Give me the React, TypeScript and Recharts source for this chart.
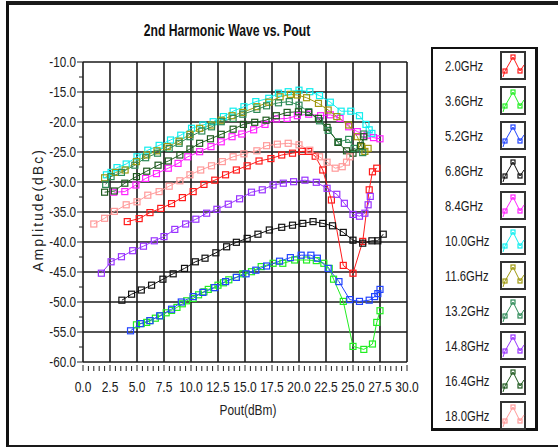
import React from 'react';
import { LineChart, Line, XAxis, YAxis, ReferenceLine } from 'recharts';

const FONT = '"Liberation Sans", Arial, sans-serif';
const TICK_NARROW = 0.8;

// ---- tick labels ----
const xMajorTicks = [0, 2.5, 5, 7.5, 10, 12.5, 15, 17.5, 20, 22.5, 25, 27.5, 30];
const yMajorTicks = [-60, -55, -50, -45, -40, -35, -30, -25, -20, -15, -10];
const xAllTicks: number[] = [];
for (let i = 0; i < xMajorTicks.length - 1; i++) {
  for (let k = 0; k < 5; k++) xAllTicks.push(xMajorTicks[i] + k * 0.5);
}
xAllTicks.push(30);
const yAllTicks: number[] = [];
for (let i = 0; i < yMajorTicks.length - 1; i++) {
  yAllTicks.push(yMajorTicks[i], yMajorTicks[i] + 2.5);
}
yAllTicks.push(-10);

// ---- series values ----
const x2_0 = [4.1, 5.2, 6.2, 7.2, 8.2, 9.2, 10.2, 11.2, 12.2, 13.2, 14.2, 15.2, 16.3, 17.4, 18.4, 19.4, 20.3, 20.9, 21.5, 22.2, 23.0, 24.1, 25.0, 25.9, 26.5, 26.8, 27.2];
const y2_0 = [-36.6, -36.1, -35.1, -34.4, -33.6, -32.6, -31.6, -30.4, -29.7, -28.8, -28.0, -27.3, -26.5, -26.1, -25.5, -25.2, -24.9, -24.9, -25.7, -28.0, -33.0, -43.9, -45.2, -39.9, -31.3, -28.3, -27.7];

const x3_6 = [4.95, 5.4, 5.9, 6.2, 6.7, 7.2, 7.7, 8.2, 8.7, 9.2, 9.6, 10.2, 10.7, 11.2, 11.6, 12.1, 12.5, 13.0, 13.5, 14.2, 14.8, 15.6, 16.5, 17.6, 18.5, 19.6, 20.7, 21.6, 22.3, 22.8, 23.2, 24.1, 25.0, 26.0, 26.8, 27.2, 27.5];
const y3_6 = [-53.8, -53.6, -53.4, -53.1, -52.7, -52.3, -51.8, -51.4, -50.9, -50.3, -49.8, -49.4, -48.8, -48.3, -47.9, -47.6, -47.2, -46.8, -46.3, -45.9, -45.3, -44.95, -44.1, -43.55, -43.55, -43.0, -43.0, -43.1, -43.55, -44.4, -46.2, -49.9, -57.4, -57.9, -57.0, -53.4, -51.45];

const x5_2 = [4.4, 5.3, 6.2, 7.1, 8.2, 9.1, 10.2, 11.1, 12.2, 13.2, 14.2, 15.1, 16.0, 17.0, 18.2, 19.2, 20.2, 21.1, 21.7, 22.7, 23.7, 24.7, 25.6, 26.5, 27.0, 27.3, 27.5];
const y5_2 = [-54.8, -53.6, -53.1, -52.3, -51.2, -50.0, -49.1, -48.4, -47.6, -46.6, -45.9, -45.3, -44.7, -44.0, -43.2, -42.6, -42.2, -42.2, -42.7, -44.4, -46.6, -49.6, -49.9, -49.7, -49.1, -48.6, -47.9];

const x6_8 = [3.6, 4.5, 5.4, 6.35, 7.4, 8.35, 9.4, 10.4, 11.3, 12.3, 13.3, 14.2, 15.2, 16.2, 17.25, 18.4, 19.4, 20.35, 21.3, 22.2, 23.1, 24.1, 25.0, 25.9, 26.75, 27.3, 27.8];
const y6_8 = [-49.7, -48.7, -48.0, -47.2, -46.2, -45.3, -44.4, -43.3, -42.7, -41.8, -40.8, -40.05, -39.4, -38.7, -38.0, -37.55, -37.2, -36.9, -36.6, -36.9, -37.3, -38.4, -39.7, -40.2, -39.8, -39.8, -38.7];

const x8_4 = [2.85, 3.87, 4.9, 5.8, 6.8, 7.9, 8.8, 9.7, 10.8, 11.85, 12.8, 13.8, 14.7, 15.8, 16.85, 17.9, 18.9, 19.85, 20.9, 22.0, 22.9, 23.8, 24.6, 25.4, 26.3, 26.9, 27.5];
const y8_4 = [-31.7, -31.6, -30.5, -29.4, -28.6, -27.7, -26.9, -25.8, -24.95, -24.1, -23.3, -22.45, -22.0, -21.3, -20.4, -19.5, -19.4, -18.95, -18.7, -18.95, -18.8, -19.4, -20.8, -21.6, -22.2, -22.6, -22.8];

const x10_0 = [2.17, 2.6, 3.15, 4.0, 5.0, 6.0, 7.05, 8.1, 9.05, 10.05, 11.1, 12.05, 13.0, 13.9, 14.9, 16.0, 17.2, 18.1, 19.0, 20.0, 21.0, 21.9, 22.9, 23.9, 24.8, 25.6, 26.2, 26.5, 26.75];
const y10_0 = [-28.8, -28.4, -27.6, -27.0, -25.8, -24.7, -23.9, -23.0, -22.2, -21.05, -20.5, -19.95, -19.1, -18.2, -17.45, -16.6, -16.05, -15.2, -14.95, -14.7, -14.95, -15.6, -16.7, -18.2, -18.2, -18.95, -20.4, -21.3, -21.9];

const x11_6 = [2.0, 3.0, 3.9, 4.95, 5.9, 6.85, 7.8, 8.9, 9.9, 10.8, 11.9, 12.8, 13.8, 14.8, 16.1, 17.2, 18.25, 19.2, 19.85, 20.7, 21.8, 22.7, 23.5, 24.6, 25.4, 25.8, 26.1, 26.4];
const y11_6 = [-29.3, -28.4, -28.0, -26.6, -25.5, -24.8, -24.1, -23.2, -22.05, -21.05, -20.5, -19.7, -18.95, -18.4, -17.45, -16.7, -15.8, -15.4, -15.5, -15.95, -16.9, -18.0, -19.1, -20.5, -22.45, -24.1, -24.9, -24.4];

const x13_2 = [2.1, 2.6, 3.56, 4.8, 5.8, 6.9, 7.98, 8.9, 9.9, 11.0, 11.9, 12.8, 13.9, 14.8, 16.1, 17.0, 18.1, 19.1, 20.0, 20.9, 21.9, 22.7, 23.65, 24.6, 25.1, 25.9, 26.0];
const y13_2 = [-30.4, -29.1, -28.4, -27.2, -25.95, -25.2, -24.4, -23.55, -22.45, -21.5, -20.8, -19.95, -19.4, -18.7, -17.9, -17.3, -16.8, -16.6, -17.2, -18.3, -19.8, -21.4, -23.3, -22.9, -24.4, -25.1, -22.0];

const x14_8 = [1.7, 2.6, 3.56, 4.6, 5.6, 6.6, 7.5, 8.5, 9.5, 10.45, 11.45, 12.4, 13.45, 14.5, 15.6, 16.6, 17.6, 18.55, 19.5, 20.55, 21.6, 22.6, 23.5, 24.2, 25.0, 25.6, 26.1, 26.4, 26.6];
const y14_8 = [-45.2, -43.3, -42.45, -41.45, -40.7, -39.8, -39.1, -37.9, -37.0, -36.2, -35.2, -34.55, -33.7, -32.8, -31.7, -31.3, -30.5, -30.2, -29.95, -29.7, -30.05, -31.05, -32.05, -33.55, -35.4, -35.7, -35.2, -33.8, -32.4];

const x16_4 = [2.0, 2.9, 3.87, 4.95, 5.9, 6.95, 7.9, 8.97, 9.9, 10.8, 11.8, 12.8, 13.9, 14.85, 15.9, 16.95, 17.9, 18.9, 19.95, 20.9, 21.8, 22.6, 23.6, 24.4, 25.0, 25.7, 26.0];
const y16_4 = [-31.7, -31.5, -30.2, -29.1, -28.2, -27.2, -26.5, -25.5, -24.5, -23.55, -22.8, -22.05, -21.2, -20.4, -20.05, -19.7, -18.95, -18.4, -18.3, -18.4, -19.4, -20.9, -23.4, -24.8, -25.2, -23.95, -22.45];

const x18_0 = [1.0, 2.0, 2.9, 4.0, 5.0, 6.0, 7.05, 7.98, 8.97, 9.9, 10.9, 11.9, 12.9, 13.9, 14.9, 16.1, 17.0, 18.0, 19.0, 20.0, 21.0, 21.9, 22.6, 23.35, 24.0, 24.4, 24.7];
const y18_0 = [-37.0, -36.05, -34.9, -33.8, -33.3, -32.2, -31.6, -30.7, -29.8, -28.8, -28.0, -27.3, -26.6, -25.8, -25.3, -24.8, -23.95, -23.7, -23.55, -23.8, -24.7, -25.8, -26.7, -27.7, -27.45, -26.7, -25.8];

const seriesNames = ['2.0GHz', '3.6GHz', '5.2GHz', '6.8GHz', '8.4GHz', '10.0GHz', '11.6GHz', '13.2GHz', '14.8GHz', '16.4GHz', '18.0GHz'];
const seriesColors = ['#ff1a1a', '#22ee22', '#2244ff', '#111111', '#ff22ff', '#11eeee', '#a09a10', '#2e8b57', '#9933ff', '#1f5a1f', '#ff9a9a'];
const seriesX = [x2_0, x3_6, x5_2, x6_8, x8_4, x10_0, x11_6, x13_2, x14_8, x16_4, x18_0];
const seriesY = [y2_0, y3_6, y5_2, y6_8, y8_4, y10_0, y11_6, y13_2, y14_8, y16_4, y18_0];

const series = seriesNames.map((name, i) => ({
  name,
  color: seriesColors[i],
  data: seriesX[i].map((x, j) => ({ x, y: seriesY[i][j] })),
}));

const SquareDot = (props: any) => {
  const { cx, cy, stroke } = props;
  if (cx == null || cy == null) return null;
  return <rect x={cx - 3} y={cy - 3} width={6} height={6} fill="none" stroke={stroke} strokeWidth={1.2} />;
};

const XTick = (props: any) => {
  const { x, y, payload } = props;
  const v = payload.value;
  const major = xMajorTicks.includes(v);
  return (
    <g>
      <line x1={x} x2={x} y1={y + (major ? 3 : 4)} y2={y + 9} stroke="#222" strokeWidth={1} />
      {major && (
        <text
          transform={`translate(${x},${y + 30}) scale(${TICK_NARROW},1)`}
          textAnchor="middle" fontSize={15} fontFamily={FONT} fill="#1a1a1a"
        >
          {v.toFixed(1)}
        </text>
      )}
    </g>
  );
};

const YTick = (props: any) => {
  const { x, y, payload } = props;
  const v = payload.value;
  const major = yMajorTicks.includes(v);
  return (
    <g>
      <line x1={x - (major ? 6 : 4)} x2={x} y1={y} y2={y} stroke="#222" strokeWidth={1} />
      {major && (
        <text
          transform={`translate(${x - 7},${y + 5}) scale(0.78,1)`}
          textAnchor="end" fontSize={15} fontFamily={FONT} fill="#1a1a1a"
        >
          {v.toFixed(1)}
        </text>
      )}
    </g>
  );
};

const Swatch = ({ color }: { color: string }) => (
  <svg width={26} height={29} style={{ display: 'block' }}>
    <rect x={1} y={1} width={24} height={27} fill="#fff" stroke="#333" strokeWidth={2} />
    <polyline points="3,26 5,20 13,6 20,20 24,14" fill="none" stroke={color} strokeWidth={1} />
    <rect x={3} y={18} width={4} height={4} fill="none" stroke={color} strokeWidth={1.2} />
    <rect x={11} y={4} width={4} height={4} fill="none" stroke={color} strokeWidth={1.2} />
    <rect x={18} y={18} width={4} height={4} fill="none" stroke={color} strokeWidth={1.2} />
  </svg>
);

export default function App() {
  return (
    <div style={{ position: 'absolute', left: 0, top: 0, width: 558, height: 447, background: '#fff', overflow: 'hidden' }}>
      <div
        style={{
          position: 'absolute', left: 6, top: 1, width: 560, height: 440,
          borderLeft: '3px solid #111', borderTop: '4px solid #1a1a1a', borderBottom: '2px solid #1a1a1a',
        }}
      />
      <div style={{ position: 'absolute', left: 0, top: 0 }}>
        <LineChart width={558} height={447} margin={{ top: 62, right: 151, bottom: 45, left: 0 }}>
          <XAxis
            type="number" dataKey="x" domain={[0, 30]} ticks={xAllTicks} interval={0}
            tick={<XTick />} tickLine={false} axisLine={false} tickSize={0} tickMargin={0} height={40}
            allowDataOverflow
          />
          <YAxis
            type="number" domain={[-60, -10]} ticks={yAllTicks} interval={0}
            tick={<YTick />} tickLine={false} axisLine={false} tickSize={0} tickMargin={0} width={83}
            allowDataOverflow
          />
          {xMajorTicks.map((v) => (
            <ReferenceLine key={'vx' + v} x={v} stroke="#1a1a1a" strokeWidth={1.6} />
          ))}
          {yMajorTicks.map((v) => (
            <ReferenceLine key={'hy' + v} y={v} stroke="#1a1a1a" strokeWidth={1.6} />
          ))}
          {series.map((s) => (
            <Line
              key={s.name}
              data={s.data}
              dataKey="y"
              name={s.name}
              stroke={s.color}
              strokeWidth={1}
              dot={<SquareDot />}
              activeDot={false}
              isAnimationActive={false}
            />
          ))}
        </LineChart>
      </div>
      <div
        style={{
          position: 'absolute', left: 0, width: 454, top: 22, textAlign: 'center',
          fontFamily: FONT, fontWeight: 'bold', fontSize: 16, color: '#111', whiteSpace: 'nowrap',
          transform: 'scaleX(0.76)', transformOrigin: '227px 0',
        }}
      >
        2nd Harmonic Wave vs. Pout
      </div>
      <div
        style={{
          position: 'absolute', left: 38, top: 210, transform: 'translate(-50%, -50%) rotate(-90deg)',
          fontFamily: FONT, fontSize: 14, letterSpacing: 2, whiteSpace: 'nowrap', color: '#222',
        }}
      >
        Amplitude(dBc)
      </div>
      <div
        style={{
          position: 'absolute', left: 148, width: 200, top: 402, textAlign: 'center',
          fontFamily: FONT, fontSize: 14, color: '#222',
          transform: 'scaleX(0.85)', transformOrigin: '100px 0',
        }}
      >
        Pout(dBm)
      </div>
      <div
        style={{
          position: 'absolute', left: 431, top: 47, width: 107, height: 384, boxSizing: 'border-box',
          border: '2px solid #111', borderRightWidth: 3, borderBottomWidth: 3, background: '#fff',
        }}
      >
        {series.map((s, i) => (
          <div key={s.name} style={{ position: 'absolute', left: 12, top: 2 + 35 * i, height: 29, display: 'flex', alignItems: 'center' }}>
            <div style={{ width: 55, height: 18, position: 'relative' }}>
              <div
                style={{
                  position: 'absolute', left: 0, top: 0, whiteSpace: 'nowrap',
                  fontFamily: FONT, fontSize: 15, lineHeight: '18px', color: '#1a1a1a',
                  transform: 'scaleX(0.75)', transformOrigin: '0 0',
                }}
              >
                {s.name}
              </div>
            </div>
            <Swatch color={s.color} />
          </div>
        ))}
      </div>
    </div>
  );
}
